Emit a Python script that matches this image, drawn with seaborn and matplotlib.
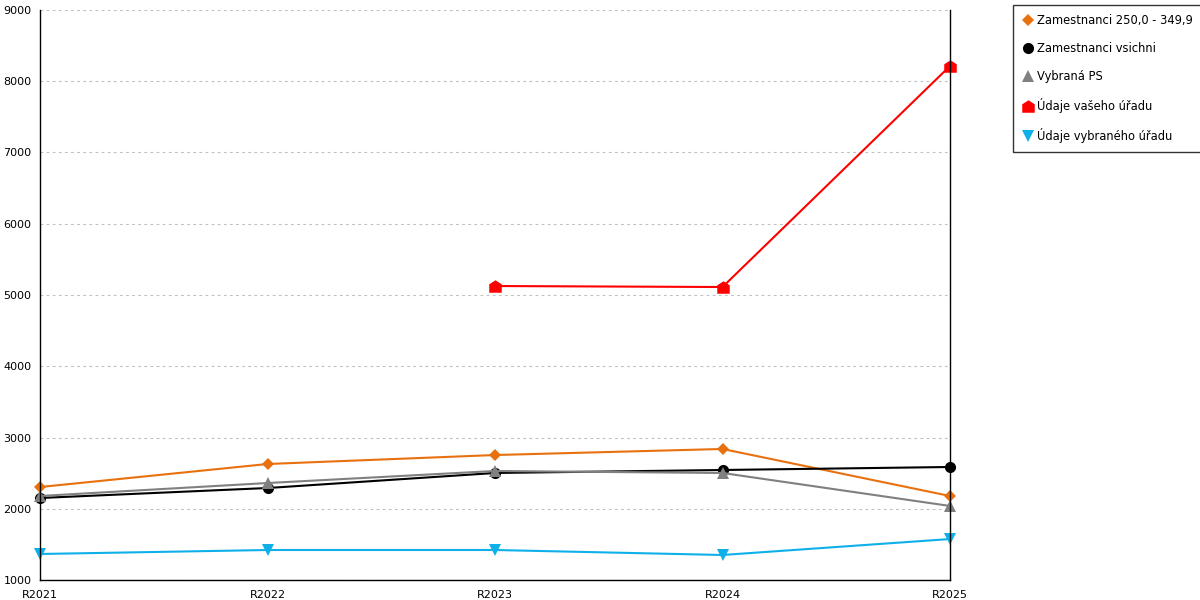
import matplotlib
matplotlib.use("Agg")
import matplotlib.pyplot as plt
import seaborn as sns
import numpy as np
from matplotlib.lines import Line2D
from matplotlib.path import Path

years = ["R2021", "R2022", "R2023", "R2024", "R2025"]

zam_250 = [2305, 2628, 2754, 2839, 2179]
zam_all = [2151, 2291, 2502, 2544, 2586]
vybrana_ps = [2179, 2361, 2530, 2502, 2039]
vas_urad = [np.nan, np.nan, 5126, 5112, 8214]
vybrany_urad = [1365, 1421, 1421, 1351, 1575]

labels = ["Zamestnanci 250,0 - 349,9", "Zamestnanci vsichni", "Vybraná PS",
          "Údaje vašeho úřadu", "Údaje vybraného úřadu"]
colors = ["#e8710f", "#000000", "#808080", "#ff0000", "#0fb0ea"]

# house-shaped marker for the office series
house = Path([(-1, -1), (1, -1), (1, 0.35), (0, 1), (-1, 0.35), (-1, -1)],
             [Path.MOVETO, Path.LINETO, Path.LINETO, Path.LINETO, Path.LINETO, Path.CLOSEPOLY])
markers = ["D", "o", "^", house, "v"]
sizes = [6, 8, 8, 9, 8]

sns.set_style("white")
plt.rcParams["font.family"] = ["DejaVu Sans"]
plt.rcParams["text.color"] = "black"

fig = plt.figure(figsize=(12, 6), dpi=100)
ax = fig.add_axes([40 / 1200, 1 - 580 / 600, 910 / 1200, 570 / 600])

x = np.arange(len(years))
series = [zam_250, zam_all, vybrana_ps, vas_urad, vybrany_urad]
for vals, lab, col, mk, ms in zip(series, labels, colors, markers, sizes):
    sns.lineplot(x=x, y=vals, ax=ax, color=col, linewidth=1.5, marker=mk,
                 markersize=ms, markeredgewidth=0, clip_on=False, label=lab, legend=False)

ax.set_xlim(0, 4)
ax.set_ylim(1000, 9000)
ax.set_xticks(x)
ax.set_xticklabels(years)
ax.set_xticks(x[:-1] + 0.5, minor=True)
ax.set_yticks(range(1000, 9001, 1000))
ax.tick_params(axis="x", which="major", direction="out", length=5, width=1, labelsize=8,
               pad=2, labelcolor="black", color="black")
ax.tick_params(axis="x", which="minor", direction="inout", length=10, width=1, color="black")
ax.tick_params(axis="y", direction="out", length=4, width=1, labelsize=8, pad=2,
               labelcolor="black", color="black")
ax.yaxis.grid(True, color="#c0c0c0", linestyle=(0, (2.5, 3)), linewidth=0.8)
ax.xaxis.grid(False)
for side in ["left", "bottom", "right"]:
    ax.spines[side].set_visible(True)
    ax.spines[side].set_color("black")
    ax.spines[side].set_linewidth(1)
ax.spines["top"].set_visible(False)
ax.set_xlabel("")
ax.set_ylabel("")

handles = [Line2D([], [], linestyle="none", marker=mk, color=col, markersize=ms, markeredgewidth=0)
           for col, mk, ms in zip(colors, markers, sizes)]
leg = fig.legend(handles, labels, loc="upper left", bbox_to_anchor=(1013 / 1200, 1 - 5 / 600),
                 frameon=True, fancybox=False, edgecolor="black", fontsize=8.3,
                 handletextpad=0.25, handlelength=1.0, labelspacing=1.3, borderpad=0.8,
                 borderaxespad=0)
leg.get_frame().set_linewidth(1)

fig.savefig("out.png", dpi=100)
